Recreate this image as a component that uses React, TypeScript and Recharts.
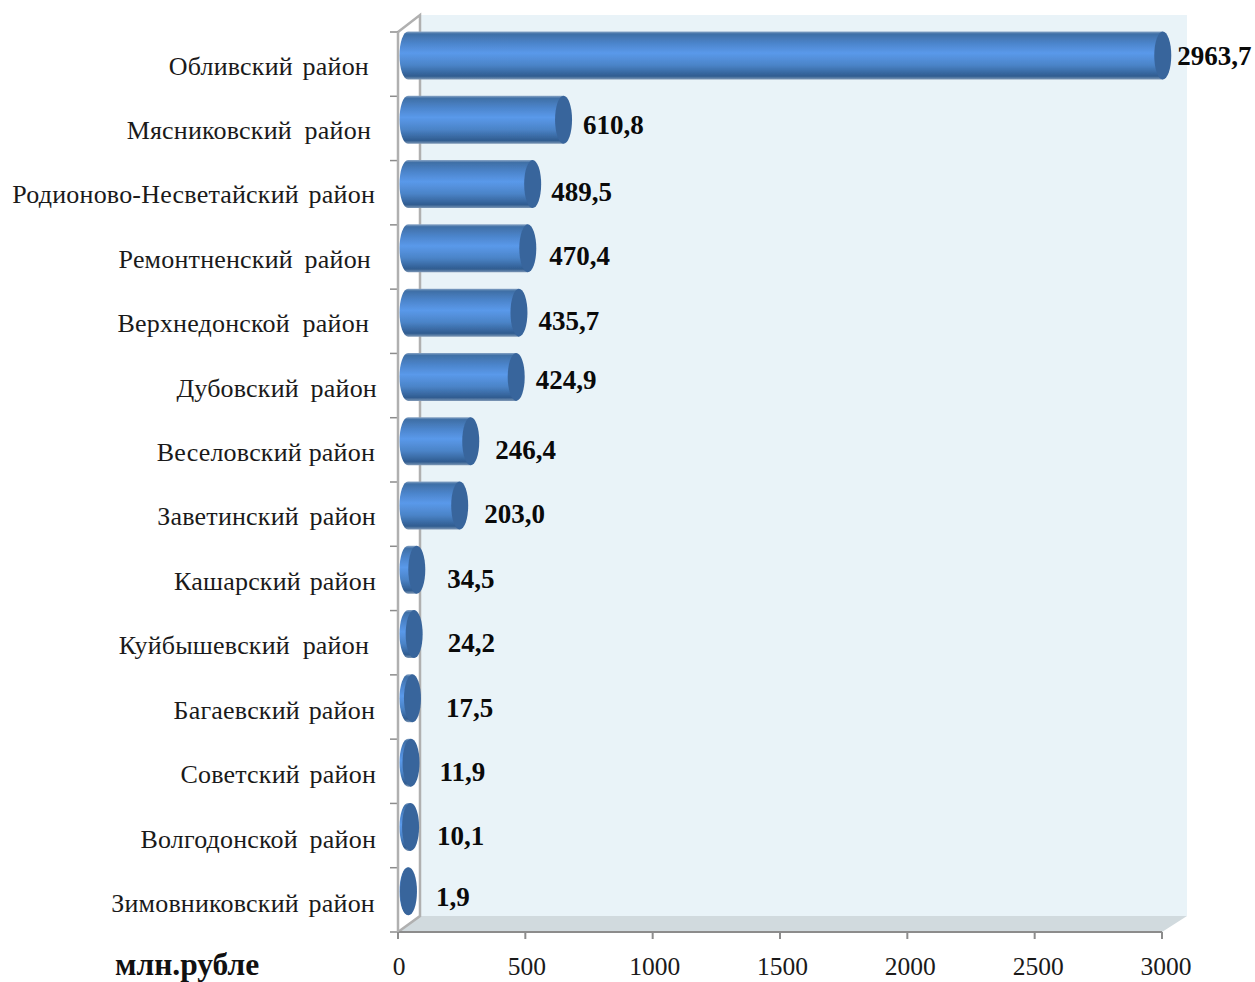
import React from "react";
import { BarChart, Bar, XAxis, YAxis, LabelList, Customized, usePlotArea } from "recharts";

const districts = [
  "Обливский район", "Мясниковский район", "Родионово-Несветайский район", "Ремонтненский район",
  "Верхнедонской район", "Дубовский район", "Веселовский район", "Заветинский район",
  "Кашарский район", "Куйбышевский район", "Багаевский район", "Советский район",
  "Волгодонской район", "Зимовниковский район",
];
const amounts = [2963.7, 610.8, 489.5, 470.4, 435.7, 424.9, 246.4, 203.0, 34.5, 24.2, 17.5, 11.9, 10.1, 1.9];
const xTicks = [0, 500, 1000, 1500, 2000, 2500, 3000];
const unitLabel = "млн.рубле";

const data = districts.map((name, i) => ({ name, value: amounts[i] }));

// Hand placement of the labels in the original slide
const catRight = [369, 371, 375, 371, 369, 377, 375, 376, 376, 369, 375, 376, 376, 375];
const catSpacing = [3, 6, 3, 5, 6, 5, 0, 4, 2, 6, 2, 3, 5, 3];
const labelGap = [5, 10, 9, 12, 10, 10, 15, 15, 21, 24, 24, 19, 17, 18];
const labelDy = [0, 5, 8, 8, 8, 3, 9, 8, 9, 9, 10, 9, 9, 6];

const SERIF = '"Liberation Serif", "Times New Roman", serif';
const DEPTH_X = 22;
const DEPTH_Y = 17;
const CAP_RX = 8.5;

function Frame() {
  const p = usePlotArea();
  if (!p) return null;
  const { x, y, width: w, height: h } = p;
  const band = h / districts.length;
  const wallTop = y - DEPTH_Y;
  const wallBottom = y + h - 16;
  const gray = "#b0b0b0";
  return (
    <g>
      <defs>
        <linearGradient id="cyl" x1="0" y1="0" x2="0" y2="1">
          <stop offset="0" stopColor="#8aa6c6" />
          <stop offset="0.05" stopColor="#3f6fa6" />
          <stop offset="0.25" stopColor="#4c85cc" />
          <stop offset="0.45" stopColor="#5a99ea" />
          <stop offset="0.7" stopColor="#4b84c8" />
          <stop offset="0.93" stopColor="#305c90" />
          <stop offset="1" stopColor="#7e98b6" />
        </linearGradient>
        <filter id="soft" x="-10%" y="-10%" width="120%" height="120%">
          <feGaussianBlur stdDeviation="0.6" />
        </filter>
      </defs>
      <polygon points={`${x + DEPTH_X},${wallTop} ${x + w + 25},${wallTop} ${x + w + 25},${wallBottom} ${x + DEPTH_X},${wallBottom}`} fill="#e9f3f8" />
      <polygon points={`${x},${y + h} ${x + DEPTH_X},${wallBottom} ${x + w + 25},${wallBottom} ${x + w},${y + h}`} fill="#d1dade" />
      <polyline points={`${x},${y} ${x + DEPTH_X},${wallTop} ${x + DEPTH_X},${wallBottom} ${x},${y + h}`} fill="#ffffff" stroke={gray} strokeWidth={2.5} />
      {Array.from({ length: districts.length + 1 }, (_, i) => (
        <line key={i} x1={x - 8} x2={x} y1={y + i * band} y2={y + i * band} stroke="#8c8c8c" strokeWidth={1.5} />
      ))}
      <text x={115} y={975} fontFamily={SERIF} fontWeight="bold" fontSize={31.5} fill="#111">{unitLabel}</text>
    </g>
  );
}

function CylinderBar(props: any) {
  const { x, y, width, height } = props;
  const top = y - DEPTH_Y / 2;
  const xL = x + DEPTH_X / 2 - 1;
  const xR = xL + width;
  const ry = height / 2;
  return (
    <g filter="url(#soft)">
      <path
        d={`M${xL},${top} A${CAP_RX},${ry} 0 0 0 ${xL},${top + height} L${xR},${top + height} L${xR},${top} Z`}
        fill="url(#cyl)"
      />
      <ellipse cx={xR} cy={top + ry} rx={CAP_RX} ry={ry} fill="#39659c" />
    </g>
  );
}

function CategoryTick(props: any) {
  const { y, payload, index } = props;
  return (
    <text
      x={catRight[index]}
      y={y + 2 + index * 0.12}
      textAnchor="end"
      dominantBaseline="central"
      fontFamily={SERIF}
      fontSize={26}
      fill="#1a1a1a"
      style={{ wordSpacing: catSpacing[index], letterSpacing: 0.2 }}
    >
      {payload.value}
    </text>
  );
}

function ValueLabel(props: any) {
  const { x, y, width, height, value, index } = props;
  return (
    <text
      x={x + width + DEPTH_X / 2 + CAP_RX + labelGap[index]}
      y={y + height / 2 - DEPTH_Y / 2 + labelDy[index]}
      dominantBaseline="central"
      fontFamily={SERIF}
      fontWeight="bold"
      fontSize={27}
      fill="#0a0a0a"
    >
      {Number(value).toFixed(1).replace(".", ",")}
    </text>
  );
}

function ValueTick(props: any) {
  const { x, y, payload, index } = props;
  return (
    <text x={x + 1 + index * 0.5} y={y + 4} textAnchor="middle" dominantBaseline="hanging" fontFamily={SERIF} fontSize={25.5} fill="#1a1a1a">
      {payload.value}
    </text>
  );
}

export default function App() {
  return (
    <div style={{ position: "absolute", left: 0, top: 0, width: 1255, height: 982, overflow: "hidden", background: "#fff" }}>
      <BarChart
        width={1255}
        height={982}
        data={data}
        layout="vertical"
        margin={{ top: 32, right: 93, bottom: 0, left: 0 }}
      >
        <Customized component={<Frame />} />
        <XAxis
          type="number"
          domain={[0, 3000]}
          ticks={xTicks}
          height={50}
          interval={0}
          stroke="#8c8c8c"
          strokeWidth={2}
          tickSize={7}
          tickMargin={14}
          tick={<ValueTick />}
        />
        <YAxis
          type="category"
          dataKey="name"
          width={398}
          interval={0}
          tickLine={false}
          stroke="#b0b0b0"
          strokeWidth={2.5}
          tick={<CategoryTick />}
        />
        <Bar dataKey="value" barSize={48} isAnimationActive={false} shape={<CylinderBar />} >
          <LabelList dataKey="value" content={<ValueLabel />} />
        </Bar>
      </BarChart>
    </div>
  );
}
